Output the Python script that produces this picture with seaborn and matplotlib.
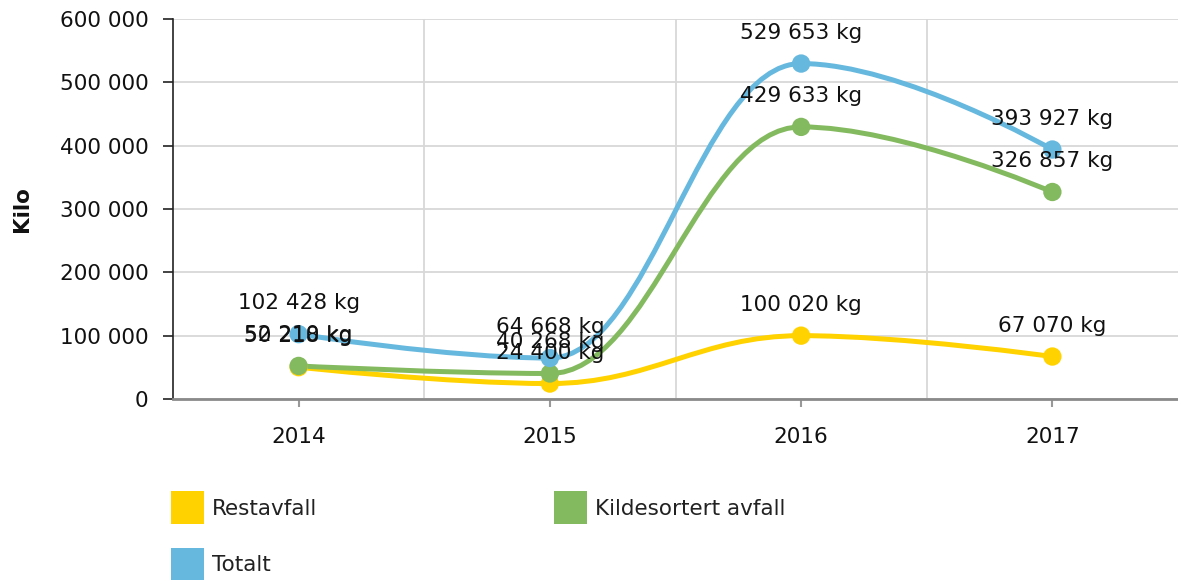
import numpy as np
import pandas as pd
import matplotlib
matplotlib.use("Agg")
import matplotlib.pyplot as plt
import seaborn as sns
from matplotlib.path import Path
from matplotlib.patches import PathPatch, Patch

years = ["2014", "2015", "2016", "2017"]
restavfall = [50218, 24400, 100020, 67070]
kildesortert = [52210, 40268, 429633, 326857]
totalt = [102428, 64668, 529653, 393927]
series_names = ["Restavfall", "Kildesortert avfall", "Totalt"]
colors = ["#FFD200", "#84BA5F", "#66B8DF"]

df = pd.DataFrame({
    "year": years * 3,
    "x": list(range(len(years))) * 3,
    "value": restavfall + kildesortert + totalt,
    "series": sum([[n] * len(years) for n in series_names], []),
})

sns.set_theme(style="white")
plt.rcParams["font.family"] = ["DejaVu Sans"]

fig = plt.figure(figsize=(11.78, 5.8), dpi=100)
ax = fig.add_axes([173 / 1178, 1 - 399 / 580, 1005 / 1178, 380 / 580])


def spline_path(xs, ys, smoothing=1.5):
    denom = smoothing + 1
    n = len(xs)
    verts = [(xs[0], ys[0])]
    codes = [Path.MOVETO]
    right = [(xs[0], ys[0])] * n
    left = [(xs[i], ys[i]) for i in range(n)]
    for i in range(1, n):
        px, py = xs[i], ys[i]
        lx, ly = xs[i - 1], ys[i - 1]
        if i < n - 1:
            nx, ny = xs[i + 1], ys[i + 1]
            lcx = (smoothing * px + lx) / denom
            lcy = (smoothing * py + ly) / denom
            rcx = (smoothing * px + nx) / denom
            rcy = (smoothing * py + ny) / denom
            if rcx != lcx:
                corr = ((rcy - lcy) * (rcx - px)) / (rcx - lcx) + py - rcy
                lcy += corr
                rcy += corr
            if lcy > ly and lcy > py:
                lcy = max(ly, py)
                rcy = 2 * py - lcy
            elif lcy < ly and lcy < py:
                lcy = min(ly, py)
                rcy = 2 * py - lcy
            if rcy > ny and rcy > py:
                rcy = max(ny, py)
                lcy = 2 * py - rcy
            elif rcy < ny and rcy < py:
                rcy = min(ny, py)
                lcy = 2 * py - rcy
            left[i] = (lcx, lcy)
            right[i] = (rcx, rcy)
    for i in range(1, n):
        verts += [right[i - 1], left[i], (xs[i], ys[i])]
        codes += [Path.CURVE4] * 3
    return Path(verts, codes)


for name, col in zip(series_names, colors):
    sub = df[df["series"] == name]
    p = spline_path(list(sub["x"].astype(float)), list(sub["value"].astype(float)))
    ax.add_patch(PathPatch(p, facecolor="none", edgecolor=col, lw=3.6,
                           capstyle="round", joinstyle="round", zorder=3))
    sns.scatterplot(data=sub, x="x", y="value", color=col, s=175,
                    edgecolor="none", ax=ax, zorder=4, legend=False)

for name in series_names:
    sub = df[df["series"] == name]
    for xv, v in zip(sub["x"], sub["value"]):
        ax.annotate(f"{v:,} kg".replace(",", " "), (xv, v), xytext=(0, 31),
                    textcoords="offset pixels", ha="center", va="center",
                    fontsize=15.5, color="#111111", zorder=6)

ax.set_xlim(-0.5, 3.5)
ax.set_ylim(0, 600000)
ax.set_xticks(range(len(years)))
ax.set_xticklabels(years)
ax.set_xticks([0.5, 1.5, 2.5], minor=True)
ax.set_yticks(range(0, 600001, 100000))
ax.set_yticklabels([f"{v:,}".replace(",", " ") for v in range(0, 600001, 100000)])
ax.grid(axis="y", which="major", color="#d8d8d8", lw=1.3, zorder=0)
ax.grid(axis="x", which="minor", color="#d8d8d8", lw=1.3, zorder=0)
ax.grid(axis="x", which="major", visible=False)
ax.tick_params(axis="y", which="major", length=7, width=1.2, color="#222222",
               labelsize=15.5, pad=10.5, left=True, labelcolor="#111111")
ax.tick_params(axis="x", which="major", length=6, width=1.5, color="#999999",
               labelsize=15.5, pad=14, bottom=True, labelcolor="#111111")
ax.tick_params(axis="x", which="minor", length=0)
for s in ["top", "right"]:
    ax.spines[s].set_visible(False)
ax.spines["left"].set_color("#222222")
ax.spines["left"].set_linewidth(1.2)
ax.spines["bottom"].set_color("#8a8a8a")
ax.spines["bottom"].set_linewidth(2)
ax.set_xlabel("")
ax.set_ylabel("Kilo", fontsize=15.5, fontweight="bold", color="#111111")
ax.yaxis.set_label_coords(-141 / 1005, 0.5)

handles = [Patch(facecolor=colors[0], edgecolor="none"),
           Patch(facecolor=colors[2], edgecolor="none"),
           Patch(facecolor=colors[1], edgecolor="none")]
labels = [series_names[0], series_names[2], series_names[1]]
fig.legend(handles, labels, loc="upper left", bbox_to_anchor=(165 / 1178, 1 - 485 / 580),
           ncol=2, frameon=False, fontsize=15.5, handlelength=1.53, handleheight=1.98,
           handletextpad=0.37, columnspacing=11.0, labelspacing=1.09, borderaxespad=0,
           borderpad=0.3, labelcolor="#222222")

fig.savefig("out.png", dpi=100)
